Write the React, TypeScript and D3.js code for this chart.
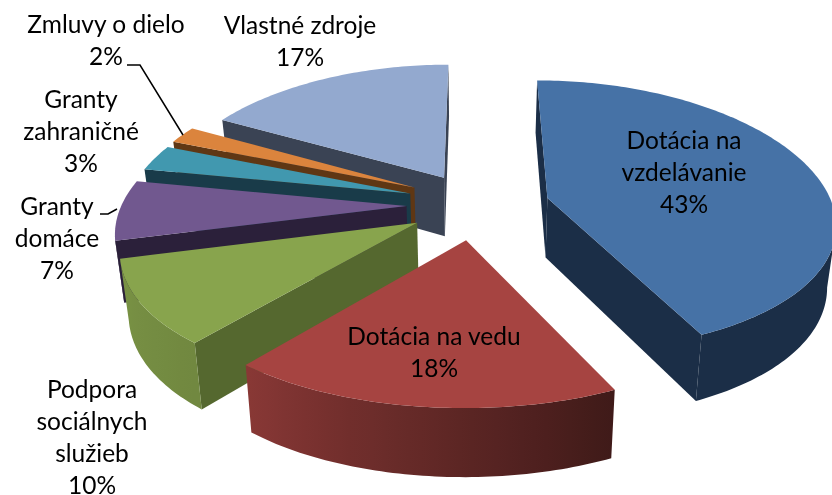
import React from 'react';
import * as d3 from 'd3';

const categories = ['Dotácia na vzdelávanie', 'Dotácia na vedu', 'Podpora sociálnych služieb', 'Granty domáce', 'Granty zahraničné', 'Zmluvy o dielo', 'Vlastné zdroje'];
const shares = [43, 18, 10, 7, 3, 2, 17];
const topColors = ['#4672a6', '#a64441', '#88a44d', '#71588f', '#4198af', '#db843d', '#93a9cf'];
const wallColors = ['#1b2e47', '#43191a', '#55682f', '#2b203a', '#193b49', '#5f3714', '#3a4354'];
const litOuter = [false, true, true, false, false, false, false];

// model tweaks: how far each slice is pulled out, x/z nudge on top of that
const explode = 0.24;
const nudge = [[0.022, 0], [0, 0.015], [0.004, 0], [0, 0], [0, -0.02], [0, -0.03], [0.01, 0]];

const labels = [
  { lines: ['Dotácia na', 'vzdelávanie', '43%'], x: 684, y: 149 },
  { lines: ['Dotácia na vedu', '18%'], x: 434, y: 345 },
  { lines: ['Podpora', 'sociálnych', 'služieb', '10%'], x: 92, y: 398 },
  { lines: ['Granty', 'domáce', '7%'], x: 57, y: 215 },
  { lines: ['Granty', 'zahraničné', '3%'], x: 81, y: 108 },
  { lines: ['Zmluvy o dielo', '2%'], x: 106, y: 33 },
  { lines: ['Vlastné zdroje', '17%'], x: 300, y: 34 },
];
const lineStep = 32;

const W = 832;
const H = 495;
const cx = 475;
const cy = 205;
const S = 285; // horizontal radius
const T = 135; // vertical radius
const Fx = 6;
const Fy = 7.5;
const depthPx = 60;

type P = [number, number];

const project = (X: number, Z: number): P => [
  cx + (X * S) / (1 - Z / Fx),
  cy + (Z * T) / (1 - Z / Fy),
];
const projectBottom = (X: number, Z: number): P => {
  const [x, y] = project(X, Z);
  return [cx + (x - cx) * 0.975, y + depthPx * (1 + 0.12 * Z)];
};

// lighting on the rim, by angle in degrees
const rimLight = d3.scaleLinear().domain([90, 155, 220, 256]).range([0.4, 0.38, 0.83, 0.9]).clamp(true);

const line = d3.line<P>();

function Slice({ arc, i }: { arc: d3.PieArcDatum<number>; i: number }) {
  const mid = (arc.startAngle + arc.endAngle) / 2;
  const ox = explode * Math.sin(mid) + nudge[i][0];
  const oz = -explode * Math.cos(mid) + nudge[i][1];

  const angles = d3.range(arc.startAngle, arc.endAngle, Math.PI / 180).concat(arc.endAngle);
  const rim = angles.map(a => ({ a, X: ox + Math.sin(a), Z: oz - Math.cos(a) }));
  const top = rim.map(r => project(r.X, r.Z));
  const bottom = rim.map(r => projectBottom(r.X, r.Z));
  const apex = project(ox, oz);
  const apexB = projectBottom(ox, oz);
  const n = rim.length - 1;

  // only the part of the rim facing us
  const front = d3.range(n + 1).filter(k => (k < n ? top[k + 1][0] < top[k][0] : top[k][0] < top[k - 1][0]));
  const gradId = `rim-${i}`;
  const x0 = front.length ? top[front[0]][0] : 0;
  const x1 = front.length ? top[front[front.length - 1]][0] : 1;

  return (
    <g>
      {litOuter[i] && (
        <defs>
          <linearGradient id={gradId} gradientUnits="userSpaceOnUse" x1={x0} y1={0} x2={x1} y2={0}>
            {front.filter((_, j) => j % 4 === 0).map(k => (
              <stop
                key={k}
                offset={(top[k][0] - x0) / (x1 - x0)}
                stopColor={d3.interpolateRgb('#000', topColors[i])(rimLight((rim[k].a * 180) / Math.PI))}
              />
            ))}
          </linearGradient>
        </defs>
      )}
      {top[0][0] < apex[0] && <path d={line([apex, top[0], bottom[0], apexB]) + 'Z'} fill={wallColors[i]} />}
      {apex[0] < top[n][0] && <path d={line([apex, top[n], bottom[n], apexB]) + 'Z'} fill={wallColors[i]} />}
      {front.length > 1 && (
        <path
          d={line([...front.map(k => top[k]), ...front.slice().reverse().map(k => bottom[k])]) + 'Z'}
          fill={litOuter[i] ? `url(#${gradId})` : wallColors[i]}
        />
      )}
      <path d={line([apex, ...top]) + 'Z'} fill={topColors[i]} />
    </g>
  );
}

export default function App() {
  const arcs = d3.pie<number>().sort(null).startAngle(0).endAngle(2 * Math.PI)(shares);
  // back to front: last slice is at the back, then the rest from the left round to the blue one
  const order = [6, 5, 4, 3, 2, 1, 0];

  return (
    <svg width={W} height={H} style={{ position: 'fixed', left: 0, top: 0 }} fontFamily="Lato, 'Open Sans', sans-serif" fontSize={24.5}>
      {order.map(i => <Slice key={categories[i]} arc={arcs[i]} i={i} />)}
      <path d={line([[127, 65], [140, 65], [183, 135]]) ?? ''} fill="none" stroke="#000" strokeWidth={1.5} />
      <path d={line([[100, 214], [108, 214], [117, 209]]) ?? ''} fill="none" stroke="#000" strokeWidth={1.5} />
      {labels.map(l => (
        <text key={l.lines[0] + l.y} textAnchor="middle" fill="#000">
          {l.lines.map((t, k) => (
            <tspan key={k} x={l.x} y={l.y + k * lineStep}>{t}</tspan>
          ))}
        </text>
      ))}
    </svg>
  );
}
